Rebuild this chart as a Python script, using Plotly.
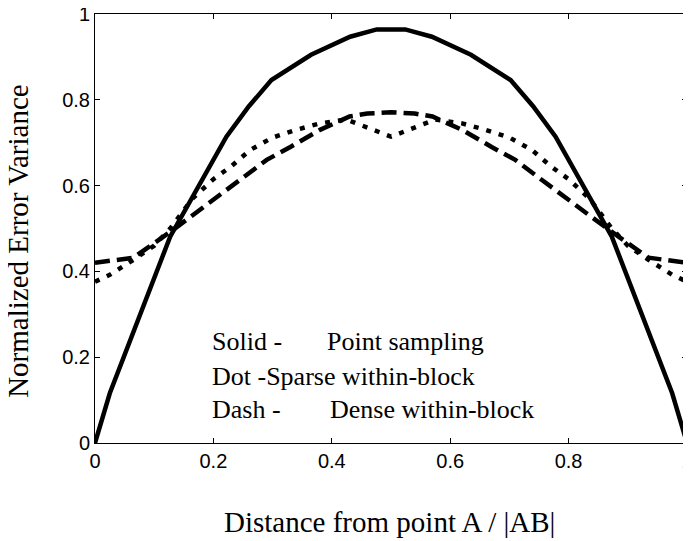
import plotly.graph_objects as go

# Solid - point sampling
solid_x = [0, 0.025, 0.127, 0.222, 0.26, 0.298, 0.365, 0.431, 0.476,
           0.524, 0.569, 0.635, 0.702, 0.74, 0.778, 0.873, 0.975, 1]
solid_y = [0, 0.116, 0.481, 0.714, 0.785, 0.846, 0.905, 0.947, 0.964,
           0.964, 0.947, 0.905, 0.846, 0.785, 0.714, 0.481, 0.116, 0]

# Dot - sparse within-block
dot_x = [0, 0.025, 0.065, 0.1, 0.127, 0.165, 0.2, 0.23, 0.262, 0.3, 0.34, 0.38, 0.425, 0.5,
         0.575, 0.62, 0.66, 0.7, 0.738, 0.77, 0.8, 0.835, 0.873, 0.9, 0.935, 0.975, 1]
dot_y = [0.376, 0.392, 0.427, 0.46, 0.50, 0.57, 0.615, 0.645, 0.683, 0.712, 0.73, 0.745, 0.754, 0.714,
         0.754, 0.745, 0.73, 0.712, 0.683, 0.645, 0.615, 0.57, 0.50, 0.46, 0.427, 0.392, 0.376]

# Dash - dense within-block
dash_x = [0, 0.065, 0.132, 0.177, 0.245, 0.29, 0.33, 0.38, 0.43, 0.46, 0.5,
          0.54, 0.57, 0.62, 0.67, 0.71, 0.755, 0.823, 0.868, 0.935, 1]
dash_y = [0.42, 0.432, 0.497, 0.543, 0.613, 0.66, 0.69, 0.73, 0.761, 0.768, 0.771,
          0.768, 0.761, 0.73, 0.69, 0.66, 0.613, 0.543, 0.497, 0.432, 0.42]

tick_vals = [0, 0.2, 0.4, 0.6, 0.8, 1]
tick_text = ["0", "0.2", "0.4", "0.6", "0.8", "1"]

legend_left = ["Solid -", "Dot -Sparse within-block", "Dash -"]
legend_right = ["Point sampling", "", "Dense within-block"]

x_title = "Distance from point A / |AB|"
y_title = "Normalized Error Variance"

fig = go.Figure()
fig.add_trace(go.Scatter(x=solid_x, y=solid_y, mode="lines", cliponaxis=False,
                         line=dict(color="black", width=4.5)))
fig.add_trace(go.Scatter(x=dot_x, y=dot_y, mode="lines", cliponaxis=False,
                         line=dict(color="black", width=4.5, dash="5px,8px")))
fig.add_trace(go.Scatter(x=dash_x, y=dash_y, mode="lines", cliponaxis=False,
                         line=dict(color="black", width=4.5, dash="15px,7px")))

serif = "Liberation Serif, Times New Roman, serif"
ann_y = [0.236, 0.155, 0.077]
for i in range(3):
    fig.add_annotation(x=0.194, y=ann_y[i], xref="x", yref="y", text=legend_left[i],
                       showarrow=False, xanchor="left", yanchor="middle",
                       font=dict(family=serif, size=26, color="black"))
    if legend_right[i]:
        fig.add_annotation(x=0.389 if i == 0 else 0.394, y=ann_y[i], xref="x", yref="y",
                           text=legend_right[i], showarrow=False, xanchor="left",
                           yanchor="middle", font=dict(family=serif, size=26, color="black"))

fig.add_annotation(x=0.498, y=-0.183, xref="paper", yref="paper", text=x_title,
                   showarrow=False, xanchor="center", yanchor="middle", borderpad=0,
                   font=dict(family=serif, size=29, color="black"))
fig.add_annotation(x=-0.130, y=0.469, xref="paper", yref="paper", text=y_title,
                   showarrow=False, xanchor="center", yanchor="middle", textangle=-90,
                   borderpad=0, font=dict(family=serif, size=29, color="black"))

axis_common = dict(range=[0, 1], tickvals=tick_vals, ticktext=tick_text,
                   ticks="inside", ticklen=5, tickwidth=1, tickcolor="black",
                   showline=True, linecolor="black", linewidth=1, mirror="ticks",
                   showgrid=False, zeroline=False, automargin=False,
                   ticklabeloverflow="allow",
                   tickfont=dict(family="Liberation Sans, Arial, sans-serif", size=20, color="black"))

fig.update_xaxes(**axis_common)
fig.update_yaxes(**axis_common)

# page body has an 8px margin, so the figure is sized/offset to compensate
fig.update_layout(width=691, height=533, showlegend=False,
                  margin=dict(l=87, r=12, t=6, b=98),
                  plot_bgcolor="white", paper_bgcolor="white")

fig.write_html("out.html")
